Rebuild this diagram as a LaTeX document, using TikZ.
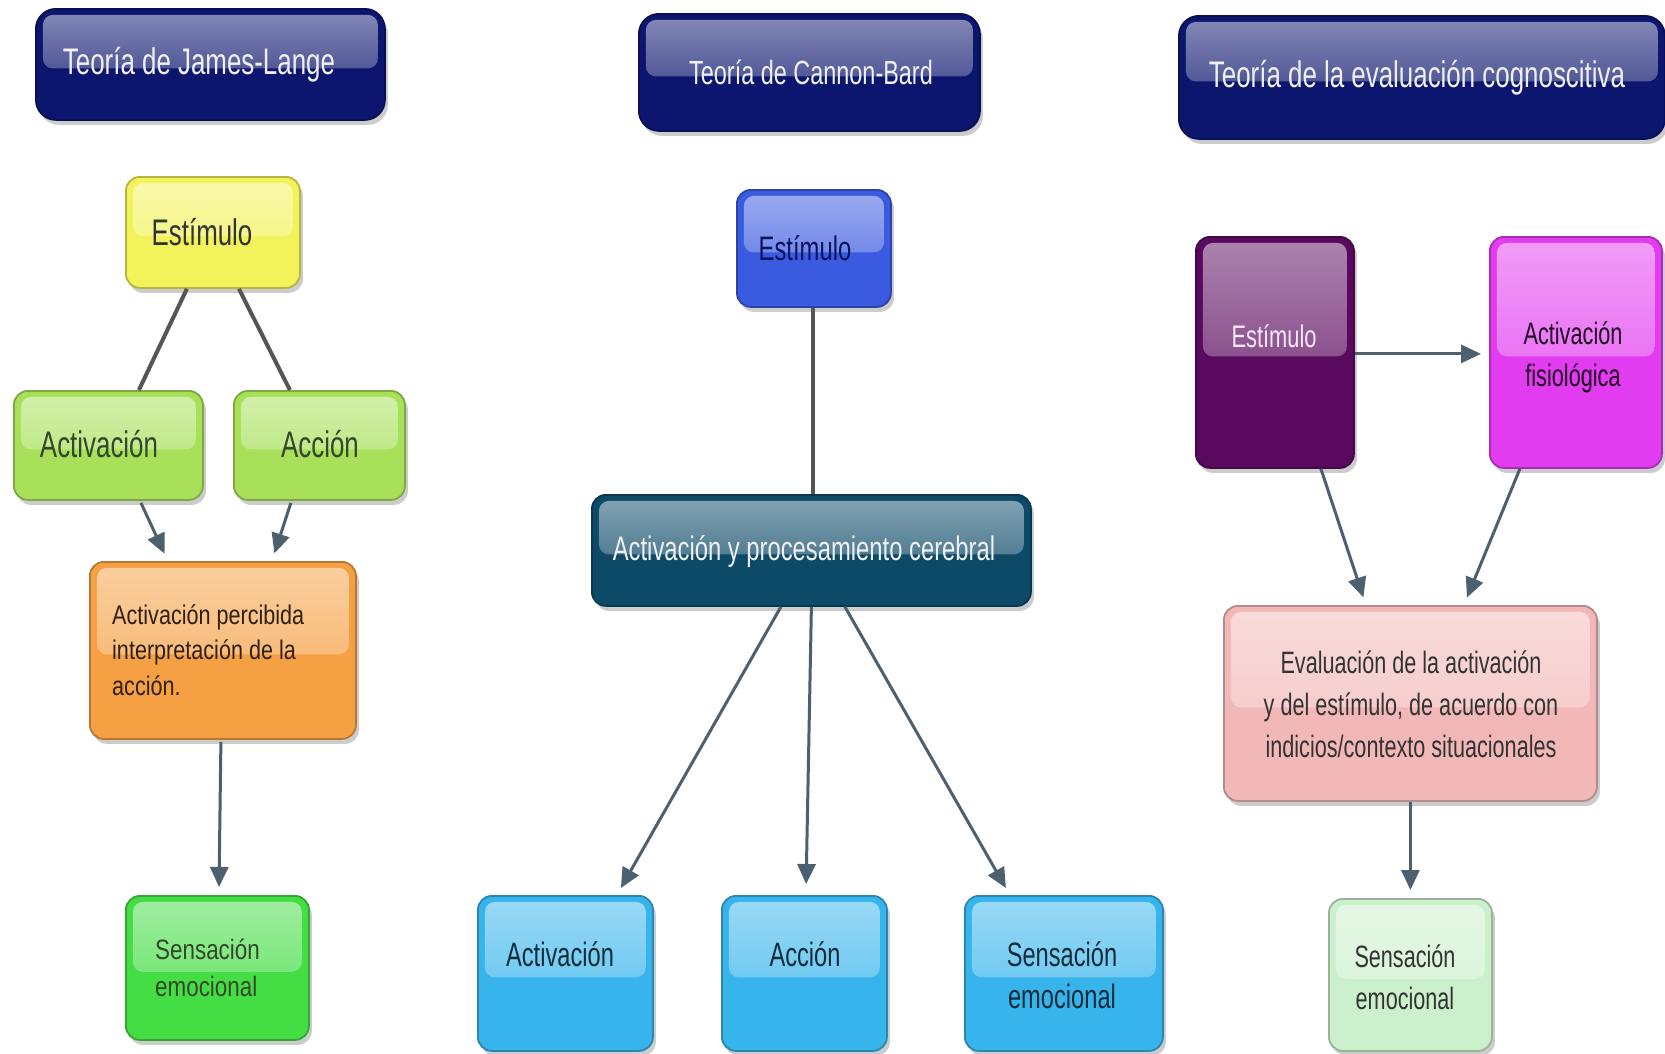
\documentclass[tikz,border=0pt]{standalone}
\usepackage{fontspec}
\setmainfont{Liberation Sans}
\newfontfamily\narrowf{Liberation Sans}[FakeStretch=0.70]
\newfontfamily\regf{Liberation Sans}[FakeStretch=0.80]
\usetikzlibrary{arrows.meta,shadows,calc}

\definecolor{cNavy}{HTML}{0C166E}
\definecolor{cYellow}{HTML}{F2F25A}
\definecolor{cLime}{HTML}{A8E05A}
\definecolor{cOrange}{HTML}{F5A043}
\definecolor{cGreen}{HTML}{44DD44}
\definecolor{cBlue}{HTML}{3A5AE0}
\definecolor{cTeal}{HTML}{0D4A68}
\definecolor{cSky}{HTML}{38B4EC}
\definecolor{cPurple}{HTML}{5A0A5E}
\definecolor{cMagenta}{HTML}{E23CF0}
\definecolor{cPink}{HTML}{F2B8B8}
\definecolor{cMint}{HTML}{CCF0CC}
\definecolor{cLine}{HTML}{555555}
\definecolor{cArr}{HTML}{4D6070}
\definecolor{cDarkGreen}{HTML}{34472A}

\tikzset{
  box/.style={rectangle, rounded corners=14pt, inner sep=0pt, anchor=north west,
    fill=#1, draw=#1!75!black, line width=1.8pt,
    drop shadow={shadow xshift=3pt, shadow yshift=-5pt, opacity=0.2, fill=black},
    path picture={\shade[rounded corners=10pt, top color=#1!50!white, bottom color=#1!90!white]
      ($(path picture bounding box.north west)+(7pt,-6pt)$) rectangle
      ($(path picture bounding box.east)+(-7pt,-4pt)$);}},
  t/.style={inner sep=0pt, align=center},
  gline/.style={draw=cLine, line width=4pt},
  arr/.style={draw=cArr, line width=3pt, -{Triangle[length=20pt,width=18pt]}, shorten >=8pt}
}

\begin{document}
\begin{tikzpicture}[x=1pt, y=-1pt]
\useasboundingbox (0,0) rectangle (1665,1053);
\fill[white] (0,0) rectangle (1665,1053);
\clip (0,0) rectangle (1665,1053);

% boxes
\node[box=cNavy, minimum width=349pt, minimum height=111pt, rounded corners=20pt] (jlt) at (35,8) {};
\node[box=cNavy, minimum width=341pt, minimum height=117pt, rounded corners=20pt] (cbt) at (638,13) {};
\node[box=cNavy, minimum width=486pt, minimum height=123pt, rounded corners=20pt] (cgt) at (1178,15) {};

\node[box=cYellow, minimum width=174pt, minimum height=111pt] (jlest) at (125,176) {};
\node[box=cLime, minimum width=189pt, minimum height=109pt] (jlact) at (13,390) {};
\node[box=cLime, minimum width=171pt, minimum height=109pt] (jlacc) at (233,390) {};
\node[box=cOrange, minimum width=266pt, minimum height=177pt] (jlper) at (89,561) {};
\node[box=cGreen, minimum width=183pt, minimum height=144pt] (jlsen) at (125,895) {};

\node[box=cBlue, minimum width=154pt, minimum height=117pt] (cbest) at (736,189) {};
\node[box=cTeal, minimum width=439pt, minimum height=111pt] (cbproc) at (591,494) {};
\node[box=cSky, minimum width=175pt, minimum height=155pt] (cbact) at (477,895) {};
\node[box=cSky, minimum width=165pt, minimum height=155pt] (cbacc) at (721,895) {};
\node[box=cSky, minimum width=198pt, minimum height=155pt] (cbsen) at (964,895) {};

\node[box=cPurple, minimum width=158pt, minimum height=231pt] (cgest) at (1195,236) {};
\node[box=cMagenta, minimum width=172pt, minimum height=231pt] (cgfis) at (1489,236) {};
\node[box=cPink, minimum width=373pt, minimum height=195pt] (cgeval) at (1223,605) {};
\node[box=cMint, minimum width=163pt, minimum height=152pt] (cgsen) at (1328,898) {};

% texts
\node[t, font=\narrowf\fontsize{37}{42}\selectfont, text=white!94!black] (jlt-t) at (199,65) {Teoría de James-Lange};
\node[t, font=\narrowf\fontsize{33.5}{38}\selectfont, text=white!94!black] (cbt-t) at (811,72) {Teoría de Cannon-Bard};
\node[t, font=\narrowf\fontsize{37}{42}\selectfont, text=white!94!black] (cgt-t) at (1417,78) {Teoría de la evaluación cognoscitiva};

\node[t, font=\narrowf\fontsize{37}{42}\selectfont, text=black!80] (jlest-t) at (202,232) {Estímulo};
\node[t, font=\narrowf\fontsize{37}{42}\selectfont, text=cDarkGreen] (jlact-t) at (99,444) {Activación};
\node[t, font=\narrowf\fontsize{37}{42}\selectfont, text=cDarkGreen] (jlacc-t) at (320,444) {Acción};
\node[t, align=left, anchor=west, font=\regf\fontsize{27}{35.5}\selectfont, text=black!75!brown] (jlper-t) at (112,650) {Activación percibida\\interpretación de la\\acción.};
\node[t, align=left, anchor=west, font=\regf\fontsize{28}{36.5}\selectfont, text=cDarkGreen] (jlsen-t) at (155,968) {Sensación\\emocional};

\node[t, font=\narrowf\fontsize{34}{38}\selectfont, text=cNavy!85!black] (cbest-t) at (805,248) {Estímulo};
\node[t, font=\narrowf\fontsize{34}{38}\selectfont, text=white!94!black] (cbproc-t) at (804,551) {Activación y procesamiento cerebral};
\node[t, font=\narrowf\fontsize{33.8}{42}\selectfont, text=black!75!cSky] (cbact-t) at (560,954) {Activación};
\node[t, font=\narrowf\fontsize{33.8}{42}\selectfont, text=black!75!cSky] (cbacc-t) at (805,954) {Acción};
\node[t, font=\narrowf\fontsize{33.8}{42}\selectfont, text=black!75!cSky] (cbsen-t) at (1062,975) {Sensación\\emocional};

\node[t, font=\narrowf\fontsize{31.2}{36}\selectfont, text=white!88!cMagenta] (cgest-t) at (1274,336) {Estímulo};
\node[t, font=\narrowf\fontsize{31}{42}\selectfont, text=black!65!cPurple] (cgfis-t) at (1573,357) {Activación\\fisiológica};
\node[t, font=\narrowf\fontsize{30.9}{42}\selectfont, text=black!80] (cgeval-t) at (1411,704) {Evaluación de la activación\\y del estímulo, de acuerdo con\\indicios/contexto situacionales};
\node[t, font=\narrowf\fontsize{30.9}{42}\selectfont, text=black!80] (cgsen-t) at (1405,977) {Sensación\\emocional};

% connectors
\draw[gline] ([xshift=-26pt]jlest.south) -- ([xshift=30.5pt]jlact.north);
\draw[gline] ([xshift=26pt]jlest.south) -- ([xshift=-29.5pt]jlacc.north);
\draw[arr] ([xshift=32.5pt,yshift=-2pt]jlact.south) -- ([xshift=-55pt]jlper.north);
\draw[arr] ([xshift=-28.5pt,yshift=-2pt]jlacc.south) -- ([xshift=49pt]jlper.north);
\draw[arr] ([xshift=-2pt,yshift=-2pt]jlper.south) -- ([xshift=1.5pt]jlsen.north);

\draw[gline] ([xshift=-1pt]cbest.south) -- ([xshift=1.5pt]cbproc.north);
\draw[arr] ([xshift=-30.5pt]cbproc.south) -- ([xshift=51.5pt]cbact.north);
\draw[arr, shorten >=11pt] (cbproc.south) -- ([xshift=1.5pt]cbacc.north);
\draw[arr] ([xshift=33.5pt]cbproc.south) -- ([xshift=-54pt]cbsen.north);

\draw[arr] ([yshift=-1.5pt]cgest.east) -- ([yshift=-1.5pt]cgfis.west);
\draw[arr] ([xshift=46pt]cgest.south) -- ([xshift=-44.5pt]cgeval.north);
\draw[arr] ([xshift=-56pt]cgfis.south) -- ([xshift=53.5pt]cgeval.north);
\draw[arr] (cgeval.south) -- (cgsen.north);
\end{tikzpicture}
\end{document}
